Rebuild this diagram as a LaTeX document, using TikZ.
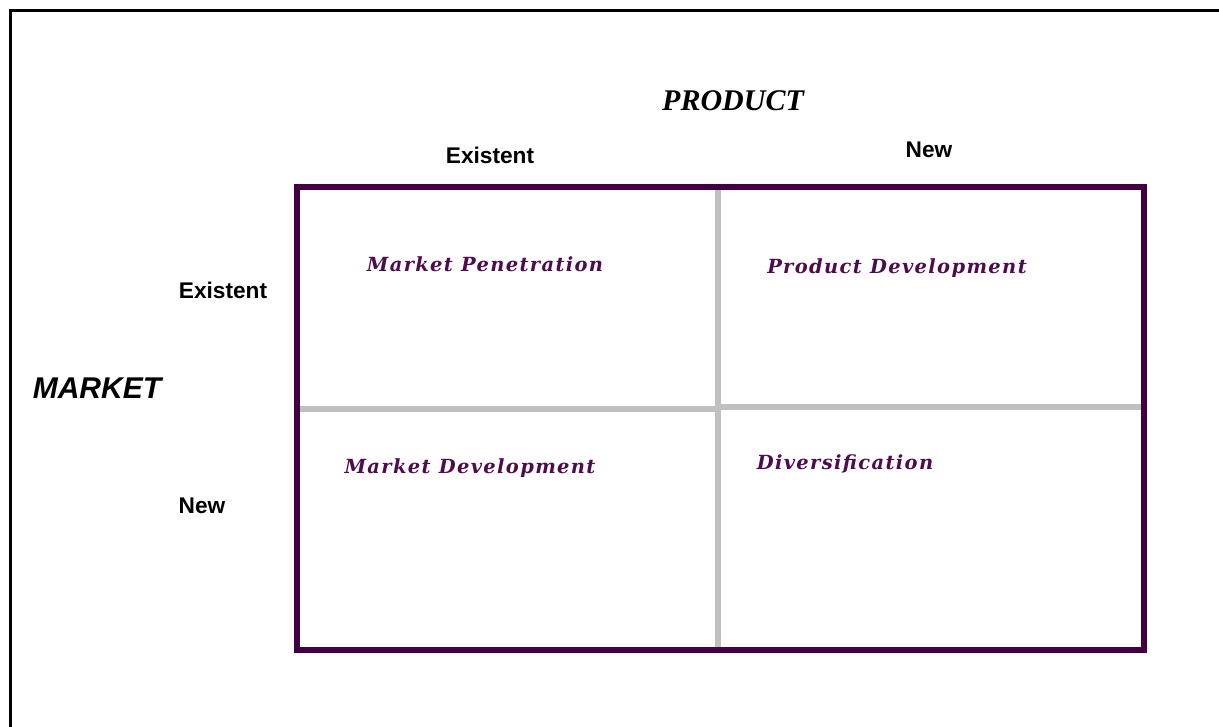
\documentclass[tikz,border=0pt]{standalone}
\usepackage{fontspec}
\newfontfamily\headfont{Liberation Sans}
\newfontfamily\titlefont{Liberation Serif}
\newfontfamily\cellfont[LetterSpace=7]{DejaVu Serif}
\definecolor{plum}{RGB}{66,0,66}
\definecolor{cellink}{RGB}{78,12,78}
\definecolor{divider}{RGB}{192,192,192}

\begin{document}
\begin{tikzpicture}[x=0.75pt,y=0.75pt,yscale=-1,xscale=1,
  head/.style={inner sep=0.75pt,font=\headfont\bfseries\fontsize{17}{20}\selectfont},
  cell/.style={inner sep=0.75pt,text=cellink,font=\cellfont\bfseries\itshape\fontsize{14.6}{17}\selectfont},
  split/.style={draw=divider,line width=4.5pt}]
\useasboundingbox (0,0) rectangle (1219,727);

% page frame, top and left edge only
\draw [line width=2.25pt] (10.5,727) -- (10.5,10.5) -- (1219,10.5) ;

% grey dividers
\draw [split] (718,187) -- (718,650) ;
\draw [split] (296,409) -- (718,409) ;
\draw [split] (718,407) -- (1144,407) ;

% outer box
\draw [draw=plum,line width=4.2pt,line cap=round] (297,187) rectangle (1144,650) ;

% axis titles
\draw (733,101) node [inner sep=0.75pt,font=\titlefont\bfseries\itshape\fontsize{22.5}{26}\selectfont] (product) {PRODUCT};
\draw (97,388) node [inner sep=0.75pt,font=\headfont\bfseries\itshape\fontsize{22.5}{26}\selectfont] (market) {MARKET};

% column and row heads
\draw (490,155) node [head] (colold) {Existent};
\draw (929,150) node [head] (colnew) {New};
\draw (223,290) node [head] (rowold) {Existent};
\draw (202,506) node [head] (rownew) {New};

% the four strategies
\draw (485,264) node [cell] (penetration) {Market Penetration};
\draw (897,268) node [cell] (proddev) {Product Development};
\draw (470,468) node [cell] (mktdev) {Market Development};
\draw (845,464) node [cell] (diversify) {Diversification};

\end{tikzpicture}
\end{document}
